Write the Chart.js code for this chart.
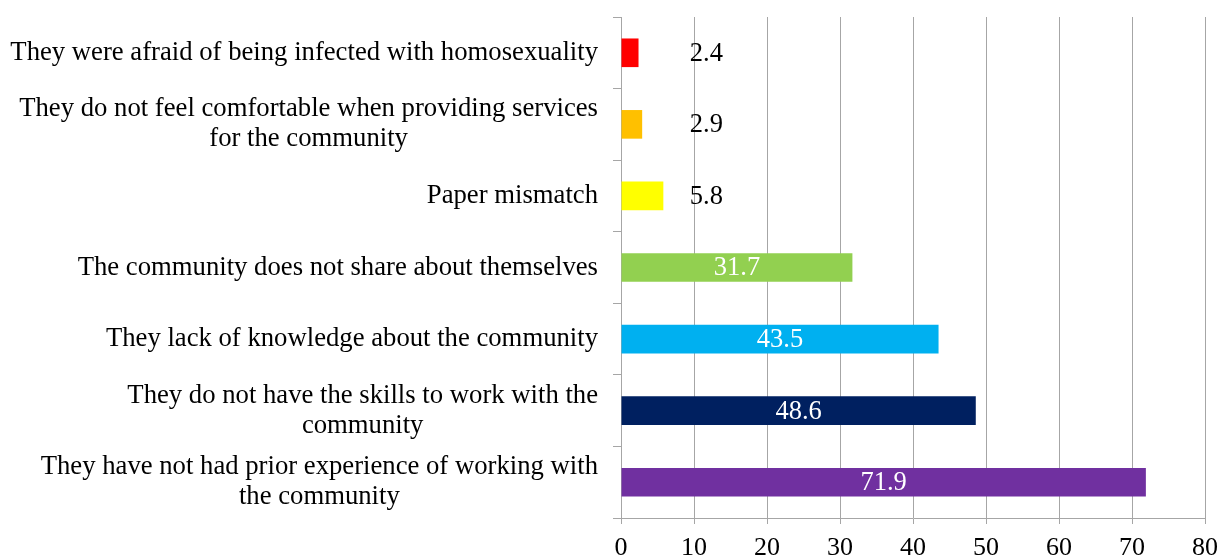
<!DOCTYPE html>
<html>
<head>
<meta charset="utf-8">
<script src="https://cdn.jsdelivr.net/npm/chart.js@4.4.1/dist/chart.umd.min.js"></script>
<style>
  html, body { margin: 0; padding: 0; background: #fff; overflow: hidden; }
  canvas { display: block; }
</style>
</head>
<body>
<canvas id="myChart" width="1230" height="558"></canvas>
<script>
// reasons given, top to bottom
const reasons = [
    ['They were afraid of being infected with homosexuality'],
    ['They do not feel comfortable when providing services', 'for the community'],
    ['Paper mismatch'],
    ['The community does not share about themselves'],
    ['They lack of knowledge about the community'],
    ['They do not have the skills to work with the', 'community'],
    ['They have not had prior experience of working with', 'the community']
];
const percents = [2.4, 2.9, 5.8, 31.7, 43.5, 48.6, 71.9];
const barColors = ['#FF0000', '#FFC000', '#FFFF00', '#92D050', '#00B0F0', '#002060', '#7030A0'];
const xTicks = [0, 10, 20, 30, 40, 50, 60, 70, 80];

const serif = '"Liberation Serif", "Times New Roman", serif';
const gridGray = '#A6A6A6';

// category names: block right aligned, lines centred on each other
const reasonLabels = {
    id: 'reasonLabels',
    afterDraw(chart) {
        const ctx = chart.ctx;
        const yScale = chart.scales.y;
        const right = yScale.right - 8 - 15;
        const lineH = 30;
        ctx.save();
        ctx.font = '26.7px ' + serif;
        ctx.fillStyle = '#000';
        ctx.textAlign = 'center';
        ctx.textBaseline = 'middle';
        reasons.forEach((lines, i) => {
            const cy = yScale.getPixelForValue(i);
            const w = Math.max(...lines.map(l => ctx.measureText(l).width));
            const cx = right - w / 2;
            const y0 = cy - (lines.length - 1) * lineH / 2;
            lines.forEach((l, k) => ctx.fillText(l, cx, y0 + k * lineH));
        });
        ctx.restore();
    }
};

// value labels: white inside long bars, black beside short ones
const valueLabels = {
    id: 'valueLabels',
    afterDatasetsDraw(chart) {
        const ctx = chart.ctx;
        const xScale = chart.scales.x;
        const meta = chart.getDatasetMeta(0);
        ctx.save();
        ctx.font = '26.5px ' + serif;
        ctx.textAlign = 'center';
        ctx.textBaseline = 'middle';
        meta.data.forEach((bar, i) => {
            const v = percents[i];
            const txt = v.toFixed(1);
            if (v >= 10) {
                ctx.fillStyle = '#fff';
                ctx.fillText(txt, (bar.base + bar.x) / 2, bar.y + 1);
            } else {
                ctx.fillStyle = '#000';
                ctx.fillText(txt, xScale.getPixelForValue(11.7), bar.y + 1);
            }
        });
        ctx.restore();
    }
};

const ctx = document.getElementById('myChart').getContext('2d');
const myChart = new Chart(ctx, {
    type: 'bar',
    data: {
        labels: reasons,
        datasets: [{
            data: percents,
            backgroundColor: barColors,
            borderWidth: 0,
            barPercentage: 0.4,
            categoryPercentage: 1
        }]
    },
    options: {
        indexAxis: 'y',
        responsive: false,
        animation: false,
        layout: { padding: { top: 17, right: 25, left: 0, bottom: 0 } },
        plugins: {
            legend: { display: false },
            tooltip: { enabled: false }
        },
        scales: {
            x: {
                min: 0,
                max: 80,
                afterFit(scale) { scale.height = 40; },
                afterBuildTicks(scale) { scale.ticks = xTicks.map(v => ({ value: v })); },
                grid: { color: gridGray, lineWidth: 1, tickLength: 6 },
                border: { color: gridGray },
                ticks: {
                    padding: 9,
                    color: '#000',
                    font: { family: serif, size: 26 }
                }
            },
            y: {
                afterFit(scale) { scale.width = 621; },
                grid: { offset: true, drawOnChartArea: false, color: gridGray, tickLength: 8 },
                border: { color: gridGray },
                ticks: { display: false }
            }
        }
    },
    plugins: [reasonLabels, valueLabels]
});
</script>
</body>
</html>
